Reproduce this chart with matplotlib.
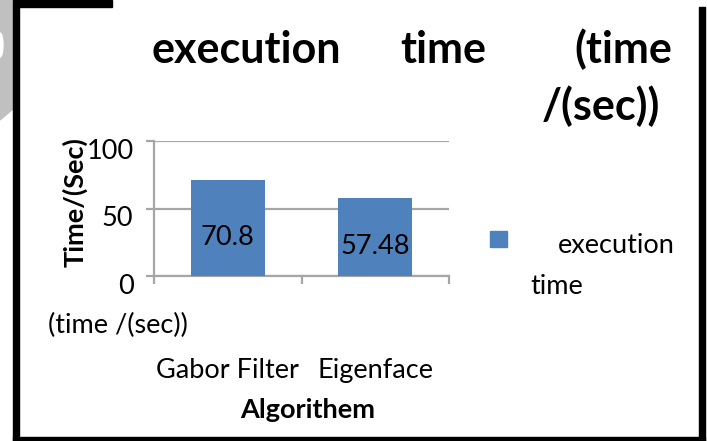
import matplotlib
matplotlib.use("Agg")
import matplotlib.pyplot as plt
from matplotlib.patches import Rectangle, Polygon, Ellipse
from matplotlib.transforms import ScaledTranslation

# ---- data ----
categories = ["Gabor Filter", "Eigenface"]
values = [70.8, 57.48]
value_labels = ["70.8", "57.48"]
yticks = [0, 50, 100]
title_words = ["execution", "time", "(time", "/(sec))"]
series_name = "execution time"
ylabel = "Time/(Sec)"
xlabel = "Algorithem"
axis_note = "(time /(sec))"

BAR = "#4F81BD"
GRID = "#A6A6A6"
FONT = "Lato"
FS = 19.5

W, H = 707, 441
fig = plt.figure(figsize=(W / 100, H / 100), dpi=100)
fig.patch.set_facecolor("white")

def fx(x):
    return x / W

def fy(y):
    return 1 - y / H

# axes: left 154, right 449, top(100) 141, bottom(0) 276
ax = fig.add_axes([fx(154), fy(276), (449 - 154) / W, (276 - 141) / H])
x_pos = [i + 0.5 for i in range(len(categories))]
ax.bar(x_pos, values, width=0.5, color=BAR, zorder=3)
ax.set_xlim(0, len(categories))
ax.set_ylim(0, 100)

for s in ["top", "right"]:
    ax.spines[s].set_visible(False)
for s in ["left", "bottom"]:
    ax.spines[s].set_color(GRID)
    ax.spines[s].set_linewidth(1.6)

ax.set_yticks(yticks)
ax.set_yticklabels([str(t) for t in yticks])
ax.yaxis.grid(True, color=GRID, linewidth=1.6, zorder=0)
ax.tick_params(axis="y", direction="out", length=5.8, width=1.6, color=GRID,
               pad=9, labelsize=FS)
for lab in ax.get_yticklabels():
    lab.set_fontfamily(FONT)
    lab.set_transform(lab.get_transform() + ScaledTranslation(0, -0.08, fig.dpi_scale_trans))

ax.set_xticks(list(range(len(categories) + 1)))
ax.set_xticklabels([""] * (len(categories) + 1))
ax.tick_params(axis="x", direction="out", length=5.8, width=1.6, color=GRID)
ax.set_xticks(x_pos, minor=True)
ax.set_xticklabels(categories, minor=True, fontsize=FS, fontfamily=FONT)
ax.tick_params(axis="x", which="minor", length=0, pad=59)

for x, v, t in zip(x_pos, values, value_labels):
    ax.text(x, v / 2, t, ha="center", va="center", fontsize=FS, fontfamily=FONT,
            color="black", zorder=4,
            transform=ax.transData + ScaledTranslation(0, -0.09, fig.dpi_scale_trans))

# title (justified over two lines)
tkw = dict(fontsize=31, fontweight="bold", fontfamily=FONT, va="baseline")
fig.text(fx(152), fy(63), title_words[0], ha="left", **tkw)
fig.text(fx(443), fy(63), title_words[1], ha="center", **tkw)
fig.text(fx(672), fy(63), title_words[2], ha="right", **tkw)
fig.text(fx(660), fy(120), title_words[3], ha="right", **tkw)

# axis titles
fig.text(fx(75), fy(202), ylabel, rotation=90, ha="center", va="center",
         fontsize=FS, fontweight="bold", fontfamily=FONT)
fig.text(fx(308), fy(410), xlabel, ha="center", va="center",
         fontsize=FS, fontweight="bold", fontfamily=FONT)
fig.text(fx(48), fy(325), axis_note, ha="left", va="center",
         fontsize=FS, fontfamily=FONT)

# legend
fig.add_artist(Rectangle((fx(490), fy(247)), 17 / W, 16 / H, color=BAR,
                         transform=fig.transFigure))
leg_words = series_name.split(" ")
fig.text(fx(675), fy(246), leg_words[0], ha="right", va="center",
         fontsize=FS, fontfamily=FONT)
fig.text(fx(530), fy(286), leg_words[1], ha="left", va="center",
         fontsize=FS, fontfamily=FONT)

# page decorations: gray strip, black frame
fig.add_artist(Polygon([(fx(0), fy(0)), (fx(14), fy(0)), (fx(14), fy(108)), (fx(0), fy(120))],
                       closed=True, color="#C0C0C0", transform=fig.transFigure))
fig.add_artist(Ellipse((fx(0), fy(45)), 6 / W, 24 / H, color="white",
                       transform=fig.transFigure))
def black(x0, y0, x1, y1):
    fig.add_artist(Rectangle((fx(x0), fy(y1)), (x1 - x0) / W, (y1 - y0) / H,
                             color="black", transform=fig.transFigure))
black(13, 0, 112, 7)
black(13, 7, 19, 441)
black(13, 437, 705, 441)
black(699, 7, 705, 441)

fig.savefig("out.png", dpi=100)
